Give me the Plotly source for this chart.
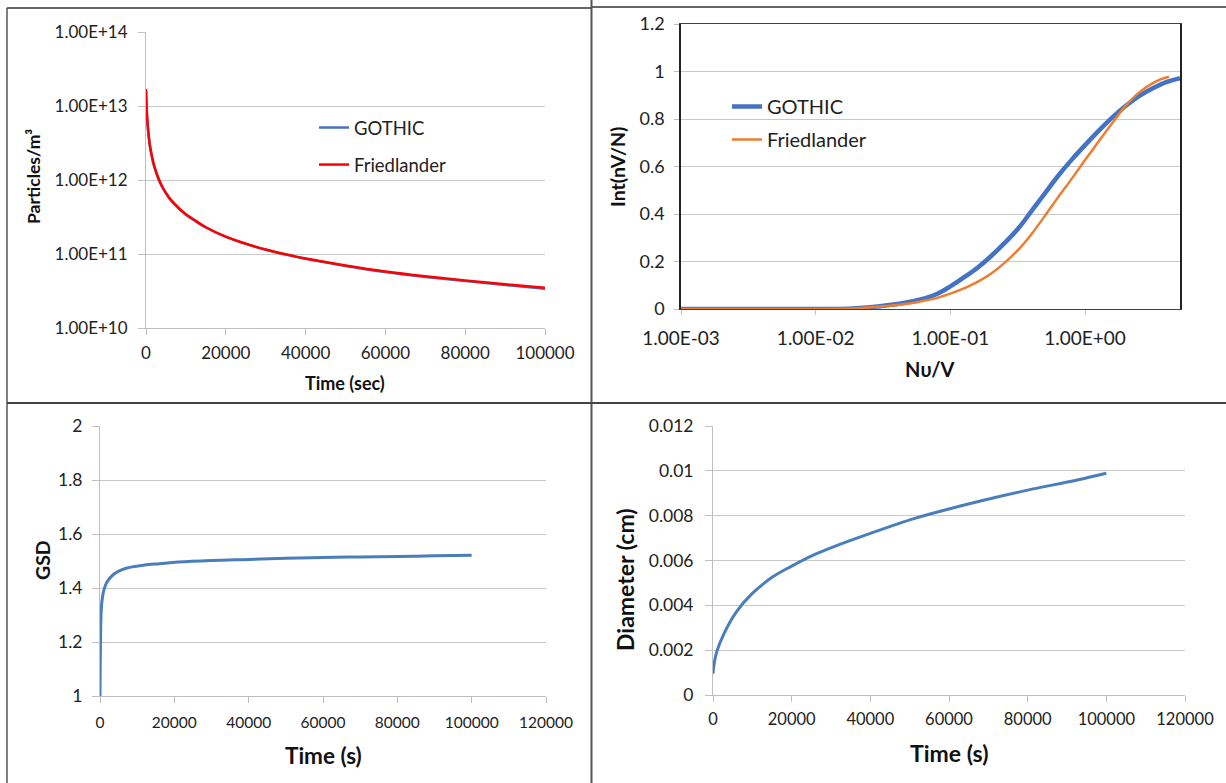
import plotly.graph_objects as go

W, H = 1226, 783

# ---------------- data ----------------
# Top-left: particle concentration vs time
tl_time = [0, 200, 500, 1000, 1500, 2000, 3000, 4000, 5000, 6000, 8000, 10000, 12500, 15000,
           20000, 25000, 30000, 35000, 40000, 50000, 60000, 70000, 80000, 90000, 100000]
tl_gothic = [1.6e13, 8.2e12, 4.8e12, 2.8e12, 2.0e12, 1.55e12, 1.07e12, 8.1e11, 6.6e11, 5.5e11,
             4.2e11, 3.4e11, 2.75e11, 2.28e11, 1.7e11, 1.37e11, 1.14e11, 9.8e10, 8.6e10,
             6.9e10, 5.7e10, 4.9e10, 4.3e10, 3.8e10, 3.4e10]
tl_fried = [1.7e13, 8.5e12, 5.0e12, 2.9e12, 2.1e12, 1.6e12, 1.1e12, 8.3e11, 6.7e11, 5.6e11,
            4.3e11, 3.45e11, 2.8e11, 2.3e11, 1.72e11, 1.38e11, 1.15e11, 9.9e10, 8.7e10,
            7.0e10, 5.8e10, 5.0e10, 4.4e10, 3.9e10, 3.5e10]
tl_yticks = [1e10, 1e11, 1e12, 1e13, 1e14]
tl_yticklabels = ["1.00E+10", "1.00E+11", "1.00E+12", "1.00E+13", "1.00E+14"]

# Top-right: integrated distribution
tr_g_x = [0.001, 0.005, 0.015, 0.02, 0.03, 0.045, 0.06, 0.08, 0.1, 0.13, 0.16, 0.2, 0.25,
          0.32, 0.4, 0.5, 0.63, 0.8, 1.0, 1.26, 1.58, 2.0, 2.5, 3.16, 4.0, 5.07]
tr_g_y = [0.0, 0.0, 0.0, 0.003, 0.012, 0.025, 0.04, 0.064, 0.095, 0.138, 0.175, 0.222, 0.275,
          0.34, 0.412, 0.485, 0.56, 0.63, 0.69, 0.75, 0.805, 0.855, 0.895, 0.928, 0.955, 0.972]
tr_f_x = [0.001, 0.005, 0.012, 0.02, 0.03, 0.045, 0.06, 0.08, 0.1, 0.13, 0.163, 0.2, 0.25,
          0.32, 0.4, 0.5, 0.63, 0.8, 1.0, 1.26, 1.58, 2.0, 2.5, 3.16, 3.6, 4.2]
tr_f_y = [0.0, 0.0, 0.0, 0.003, 0.01, 0.02, 0.032, 0.047, 0.065, 0.09, 0.117, 0.148, 0.192,
          0.25, 0.315, 0.39, 0.47, 0.55, 0.627, 0.705, 0.78, 0.855, 0.91, 0.95, 0.966, 0.978]
tr_xticks = [0.001, 0.01, 0.1, 1]
tr_xticklabels = ["1.00E-03", "1.00E-02", "1.00E-01", "1.00E+00"]

# Bottom-left: GSD vs time
gsd_time = [0, 50, 150, 300, 600, 1000, 1800, 3600, 7000, 12000, 16000, 21000, 30000, 40000,
            50000, 60000, 70000, 80000, 90000, 100000]
gsd_val = [1.0, 1.1, 1.22, 1.31, 1.36, 1.39, 1.42, 1.45, 1.473, 1.485, 1.49, 1.496, 1.502,
           1.506, 1.51, 1.513, 1.515, 1.517, 1.519, 1.521]

# Bottom-right: diameter vs time
dia_time = [0, 300, 900, 2800, 5900, 10000, 15200, 20000, 25500, 30600, 40000, 51300, 60000,
            72000, 80000, 92600, 100000]
dia_val = [0.00095, 0.0014, 0.0019, 0.00274, 0.0037, 0.00453, 0.00527, 0.00575, 0.00624,
           0.00661, 0.00721, 0.00788, 0.0083, 0.00882, 0.00914, 0.00959, 0.00989]

# ---------------- helpers ----------------
FONT = "Lato, 'Open Sans', Arial, sans-serif"


def px_x(p):
    return p / W


def px_y(p):
    return 1 - p / H


fig = go.Figure()

fig.add_trace(go.Scatter(x=tl_time, y=tl_gothic, mode="lines", name="GOTHIC",
                         line=dict(color="#4472C4", width=2.5, shape="spline"),
                         xaxis="x", yaxis="y", legend="legend", legendgroup="g1"))
fig.add_trace(go.Scatter(x=tl_time, y=tl_fried, mode="lines", name="Friedlander",
                         line=dict(color="#FF0000", width=2.5, shape="spline"),
                         xaxis="x", yaxis="y", legend="legend", legendgroup="g2"))
fig.add_trace(go.Scatter(x=tr_g_x, y=tr_g_y, mode="lines", name="GOTHIC",
                         line=dict(color="#4472C4", width=4.5, shape="spline"),
                         xaxis="x2", yaxis="y2", legend="legend2", legendgroup="h1"))
fig.add_trace(go.Scatter(x=tr_f_x, y=tr_f_y, mode="lines", name="Friedlander",
                         line=dict(color="#ED7D31", width=2.5, shape="spline"),
                         xaxis="x2", yaxis="y2", legend="legend2", legendgroup="h2"))
fig.add_trace(go.Scatter(x=gsd_time, y=gsd_val, mode="lines", showlegend=False,
                         line=dict(color="#4A7EBB", width=3, shape="spline"),
                         xaxis="x3", yaxis="y3"))
fig.add_trace(go.Scatter(x=dia_time, y=dia_val, mode="lines", showlegend=False,
                         line=dict(color="#4A7EBB", width=3, shape="spline"),
                         xaxis="x4", yaxis="y4"))

grid = "#C8C8C8"
axcol = "#BFBFBF"


def tf(size):
    return dict(family=FONT, size=size, color="#222")


common_x = dict(showgrid=False, zeroline=False, showline=True, linecolor=axcol, linewidth=1,
                ticks="outside", tickcolor=axcol, ticklen=6, automargin=False)
common_y = dict(showgrid=True, gridcolor=grid, gridwidth=1, zeroline=False, showline=True,
                linecolor=axcol, linewidth=1, ticks="outside", tickcolor=axcol, ticklen=7,
                automargin=False)

layout = dict(
    width=W, height=H, margin=dict(l=0, r=0, t=0, b=0, autoexpand=False),
    paper_bgcolor="white", plot_bgcolor="white",
    font=dict(family=FONT, color="#222"),
    xaxis=dict(common_x, domain=[px_x(146), px_x(545)], anchor="y", range=[0, 100000],
               tickvals=[0, 20000, 40000, 60000, 80000, 100000], tickformat="d",
               tickfont=tf(17), ticklabelstandoff=4),
    yaxis=dict(common_y, domain=[px_y(328), px_y(32)], anchor="x", type="log", range=[10, 14],
               tickvals=tl_yticks, ticktext=tl_yticklabels, tickfont=tf(17),
               ticklabelstandoff=7),
    xaxis2=dict(common_x, domain=[px_x(681), px_x(1180)], anchor="y2", type="log",
                range=[-3, 0.705], tickvals=tr_xticks, ticktext=tr_xticklabels,
                linecolor="#404040", mirror=True, ticklen=5, tickfont=tf(19),
                ticklabelstandoff=7),
    yaxis2=dict(common_y, domain=[px_y(309), px_y(24)], anchor="x2", range=[0, 1.2], dtick=0.2,
                linecolor="#222", linewidth=1.5, mirror=True, ticklen=5, tickfont=tf(18),
                ticklabelstandoff=6),
    xaxis3=dict(common_x, domain=[px_x(100), px_x(546)], anchor="y3", range=[0, 120000],
                dtick=20000, tickformat="d", tickfont=tf(15.5), ticklabelstandoff=6),
    yaxis3=dict(common_y, domain=[px_y(696), px_y(426)], anchor="x3", range=[1, 2], dtick=0.2,
                tickfont=tf(17.5), ticklabelstandoff=6),
    xaxis4=dict(common_x, domain=[px_x(713), px_x(1185)], anchor="y4", range=[0, 120000],
                dtick=20000, tickformat="d", tickfont=tf(16.5), ticklabelstandoff=3),
    yaxis4=dict(common_y, domain=[px_y(695), px_y(426)], anchor="x4", range=[0, 0.012],
                dtick=0.002, tickfont=tf(17.5), ticklabelstandoff=8),
    legend=dict(x=px_x(314), y=px_y(109), xanchor="left", yanchor="top",
                bgcolor="rgba(0,0,0,0)", font=tf(18.5),
                traceorder="grouped", tracegroupgap=10),
    legend2=dict(x=px_x(727), y=px_y(87), xanchor="left", yanchor="top",
                 bgcolor="rgba(0,0,0,0)", font=tf(20),
                 traceorder="grouped", tracegroupgap=4),
)
fig.update_layout(**layout)

titles = [
    ("Particles/m³", 33, 177, -90, 17.5),
    ("Time (sec)", 345, 383, 0, 18),
    ("Int(nV/N)", 617, 167, -90, 19.5),
    ("Nυ/V", 930, 369, 0, 20),
    ("GSD", 42, 560, -90, 19.5),
    ("Time (s)", 323, 755, 0, 22.5),
    ("Diameter (cm)", 625, 580, -90, 23),
    ("Time (s)", 949, 753, 0, 23),
]
for text, x, y, ang, sz in titles:
    fig.add_annotation(text=f"<b>{text}</b>", x=px_x(x), y=px_y(y), xref="paper", yref="paper",
                       showarrow=False, textangle=ang, xanchor="center", yanchor="middle",
                       font=dict(family=FONT, size=sz, color="#111"))

frames = [
    (7, 8, 591, 8, "#333", 1.5),
    (592, 7, 1226, 7, "#333", 1.5),
    (7, 8, 7, 783, "#555", 1.5),
    (591.5, 0, 591.5, 783, "#555", 2),
    (7, 403, 1226, 403, "#444", 2),
]
for x0, y0, x1, y1, c, w in frames:
    fig.add_shape(type="line", xref="paper", yref="paper", x0=px_x(x0), y0=px_y(y0),
                  x1=px_x(x1), y1=px_y(y1), line=dict(color=c, width=w))

fig.write_html("out.html", config={"displayModeBar": False},
               post_script="document.body.style.margin='0';")
